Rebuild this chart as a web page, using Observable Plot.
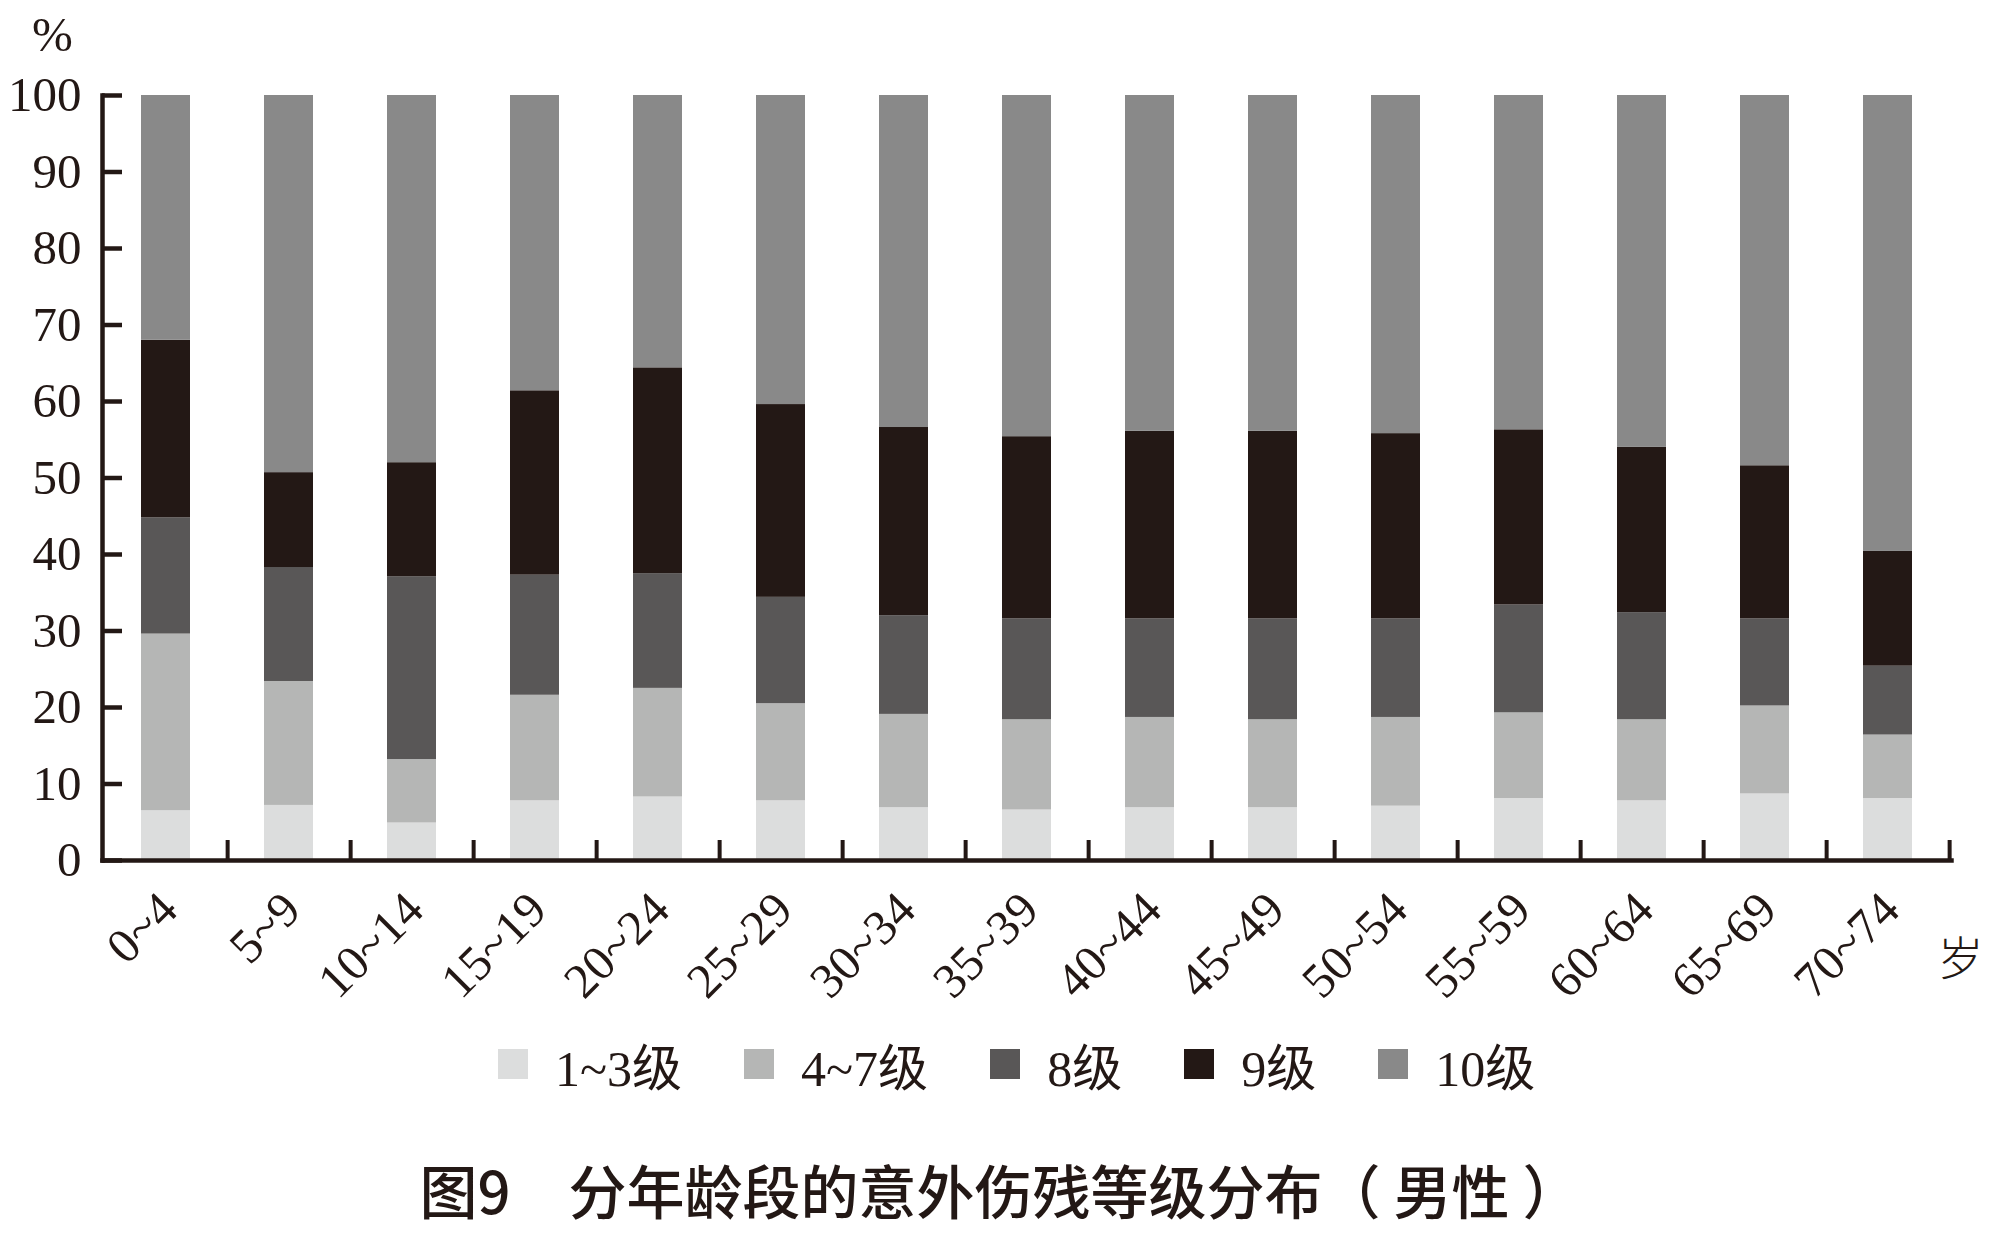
<!DOCTYPE html>
<html>
<head>
<meta charset="utf-8">
<script src="https://cdn.jsdelivr.net/npm/d3@7"></script>
<script src="https://cdn.jsdelivr.net/npm/@observablehq/plot@0.6"></script>
<style>
  body { margin: 0; background: #fff; }
  #wrap { position: relative; width: 2002px; height: 1240px; overflow: hidden; background: #fff; }
  #chart { position: absolute; left: 0; top: 0; }
  #legend { position: absolute; left: 498px; top: 1038px; height: 52px; display: flex; align-items: center;
            font-family: "Liberation Serif", "Noto Sans CJK SC", serif; font-size: 50px; color: #231815; white-space: nowrap; }
  .item { display: flex; align-items: center; margin-right: 62px; }
  .sw { width: 30px; height: 30px; margin-right: 27px; }
  #title { position: absolute; left: 0; width: 2000px; top: 1157px; text-align: center; white-space: pre;
           font-family: "Noto Sans CJK SC", sans-serif; font-size: 58px; font-weight: 500; color: #231815; line-height: 64px; }
</style>
</head>
<body>
<div id="wrap">
  <div id="chart"></div>
  <div id="legend"></div>
  <div id="title">图9　分年龄段的意外伤残等级分布（ 男性 ）</div>
</div>
<script>
// ---- data ----
const ages = ["0~4","5~9","10~14","15~19","20~24","25~29","30~34","35~39","40~44","45~49","50~54","55~59","60~64","65~69","70~74"];
const grades = ["1~3级","4~7级","8级","9级","10级"];
const g1_3 = [6.5, 7.2, 4.9, 7.8, 8.3, 7.8, 6.9, 6.6, 6.9, 6.9, 7.1, 8.1, 7.8, 8.7, 8.1];
const g4_7 = [23.1, 16.2, 8.3, 13.8, 14.2, 12.7, 12.2, 11.8, 11.8, 11.5, 11.6, 11.2, 10.6, 11.5, 8.3];
const g8   = [15.2, 14.9, 23.9, 15.7, 15.0, 13.9, 12.9, 13.2, 12.9, 13.2, 12.9, 14.1, 14.0, 11.4, 9.0];
const g9   = [23.2, 12.4, 14.9, 24.1, 26.9, 25.2, 24.6, 23.8, 24.5, 24.5, 24.2, 22.9, 21.6, 20.0, 15.0];
const g10  = [32.0, 49.3, 48.0, 38.6, 35.6, 40.4, 43.4, 44.6, 43.9, 43.9, 44.2, 43.7, 46.0, 48.4, 59.6];
const yTicks = [0, 10, 20, 30, 40, 50, 60, 70, 80, 90, 100];
const yUnit = "%";
const xUnit = "岁";

const colors = ["#dcdddd", "#b5b6b5", "#595757", "#231815", "#898989"];
const ink = "#231815";

const series = [g1_3, g4_7, g8, g9, g10];
const rows = ages.flatMap((a, i) => grades.map((g, j) => ({age: a, grade: g, value: series[j][i]})));

// ---- layout ----
const W = 2002, H = 1010, ML = 102, MR = 51, MT = 95, MB = 150;
const frameW = W - ML - MR, frameH = H - MT - MB, step = frameW / ages.length;
const serif = "Liberation Serif, Times New Roman, serif";

const chart = Plot.plot({
  width: W, height: H,
  marginLeft: ML, marginRight: MR, marginTop: MT, marginBottom: MB,
  style: {fontFamily: serif, color: ink, background: "transparent", overflow: "visible"},
  x: {type: "band", domain: ages, paddingInner: 0.6, paddingOuter: 0.3, axis: null},
  y: {domain: [0, 100]},
  color: {domain: grades, range: colors},
  marks: [
    Plot.barY(rows, {x: "age", y: "value", fill: "grade"}),
    Plot.frame({anchor: "left", stroke: ink, strokeWidth: 4.5}),
    Plot.frame({anchor: "bottom", stroke: ink, strokeWidth: 4.5}),
    Plot.tickY(yTicks, {y: d => d, stroke: ink, strokeWidth: 4.5, insetRight: frameW - 20}),
    Plot.ruleX(ages, {x: d => d, dx: step / 2, stroke: ink, strokeWidth: 4, insetTop: frameH - 20}),
    Plot.axisY({ticks: yTicks, tickSize: 0, tickPadding: 21, fontSize: 49, label: null, tickFormat: d => String(d), fontFamily: serif, fill: ink}),
    Plot.text(ages, {x: d => d, text: d => d, frameAnchor: "bottom", rotate: -45, textAnchor: "end", lineAnchor: "bottom",
                     dx: 14, dy: 52, fontSize: 49, fontFamily: serif, fill: ink}),
    Plot.text([yUnit], {text: d => d, frameAnchor: "top-left", textAnchor: "middle", lineAnchor: "middle",
                        dx: -50, dy: -60, fontSize: 49, fontFamily: serif, fill: ink}),
    Plot.text([xUnit], {text: d => d, frameAnchor: "bottom-right", textAnchor: "middle", lineAnchor: "middle",
                        dx: 9, dy: 100, fontSize: 46, fontFamily: "Noto Sans CJK SC", fontWeight: 300, fill: ink})
  ]
});
document.getElementById("chart").appendChild(chart);

// ---- legend ----
const legend = document.getElementById("legend");
grades.forEach((g, j) => {
  const item = document.createElement("div");
  item.className = "item";
  if (j === grades.length - 1) item.style.marginRight = "0";
  const sw = document.createElement("div");
  sw.className = "sw";
  sw.style.background = colors[j];
  const t = document.createElement("span");
  t.textContent = g;
  item.appendChild(sw); item.appendChild(t);
  legend.appendChild(item);
});
</script>
</body>
</html>
